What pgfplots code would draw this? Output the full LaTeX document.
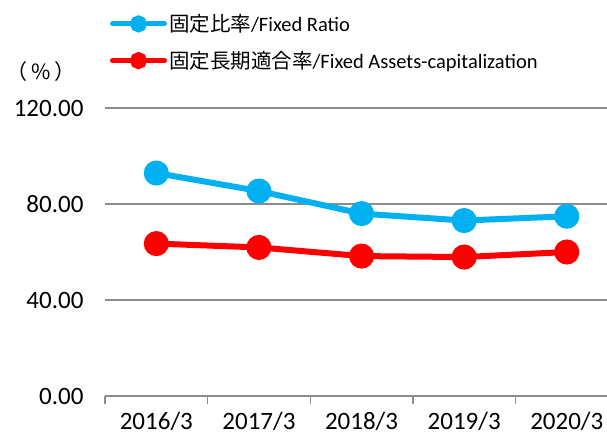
\documentclass[border=0pt]{standalone}
\usepackage{pgfplots}
\pgfplotsset{compat=1.18}
\usepackage{fontspec}
\setmainfont{Carlito}
\newfontfamily\cjk{Noto Sans CJK JP}
\definecolor{cblue}{HTML}{00B0F0}
\definecolor{cred}{HTML}{FF0000}
\definecolor{cgrid}{HTML}{8C8C8C}
\begin{document}
\begin{tikzpicture}[x=1pt,y=1pt]
\path[use as bounding box] (0,0) rectangle (607,437);
\begin{axis}[
  at={(105pt,41pt)}, anchor=south west,
  width=502pt, height=288pt, scale only axis,
  xmin=-0.5, xmax=4.392, ymin=0, ymax=120,
  clip=false,
  xtick={0,1,2,3,4},
  xticklabels={2016/3,2017/3,2018/3,2019/3,2020/3},
  minor xtick={-0.5,0.5,1.5,2.5,3.5},
  ytick={0,40,80,120},
  axis x line*=bottom, axis y line*=left,
  y axis line style={draw=none},
  x axis line style={cgrid, line width=1.3pt},
  tick align=outside,
  major tick length=0pt,
  minor tick length=8pt,
  minor x tick style={cgrid, line width=1.3pt},
  major tick style={draw=none},
  ymajorgrids,
  major grid style={cgrid, line width=1.3pt},
  tick label style={font=\fontsize{25}{28}\selectfont, text=black},
  xticklabel style={yshift=-15pt, inner sep=0.5pt},
  yticklabel style={xshift=-18pt},
  /pgf/number format/assume math mode=true,
  yticklabel={\pgfmathprintnumber[fixed,fixed zerofill,precision=2]{\tick}},
  legend style={at={(axis description cs:0,1)}, anchor=south west,
    xshift=5pt, yshift=36pt, draw=none, fill=none,
    font=\fontsize{20.5}{24}\selectfont, row sep=14pt,
    inner sep=0pt, outer sep=0pt,
    nodes={inner sep=2pt}},
  legend cell align=left,
]
\addplot[cblue, line width=6pt, mark=*, mark size=9.5pt,
  mark options={draw=none, fill=cblue},
  legend image code/.code={\draw[cblue, line width=5pt, line cap=round] (2pt,0pt) -- (54pt,0pt); \fill[cblue] (28pt,0pt) circle (5.5pt);}]
  coordinates {(0,92.9) (1,85.4) (2,76.0) (3,73.1) (4,74.9)};
\addlegendentry{{\cjk 固定比率}/Fixed Ratio}
\addplot[cred, line width=6pt, mark=*, mark size=9.5pt,
  mark options={draw=none, fill=cred},
  legend image code/.code={\draw[cred, line width=5pt, line cap=round] (2pt,0pt) -- (54pt,0pt); \fill[cred] (28pt,0pt) circle (5.5pt);}]
  coordinates {(0,63.5) (1,61.9) (2,58.3) (3,57.9) (4,60.0)};
\addlegendentry{{\cjk 固定長期適合率}/Fixed Assets-capitalization}
\node[font=\fontsize{21}{24}\selectfont\cjk, anchor=center] at (axis description cs:0,1) [xshift=-64pt, yshift=36pt] {（\,\%\,）};
\end{axis}
\end{tikzpicture}
\end{document}
